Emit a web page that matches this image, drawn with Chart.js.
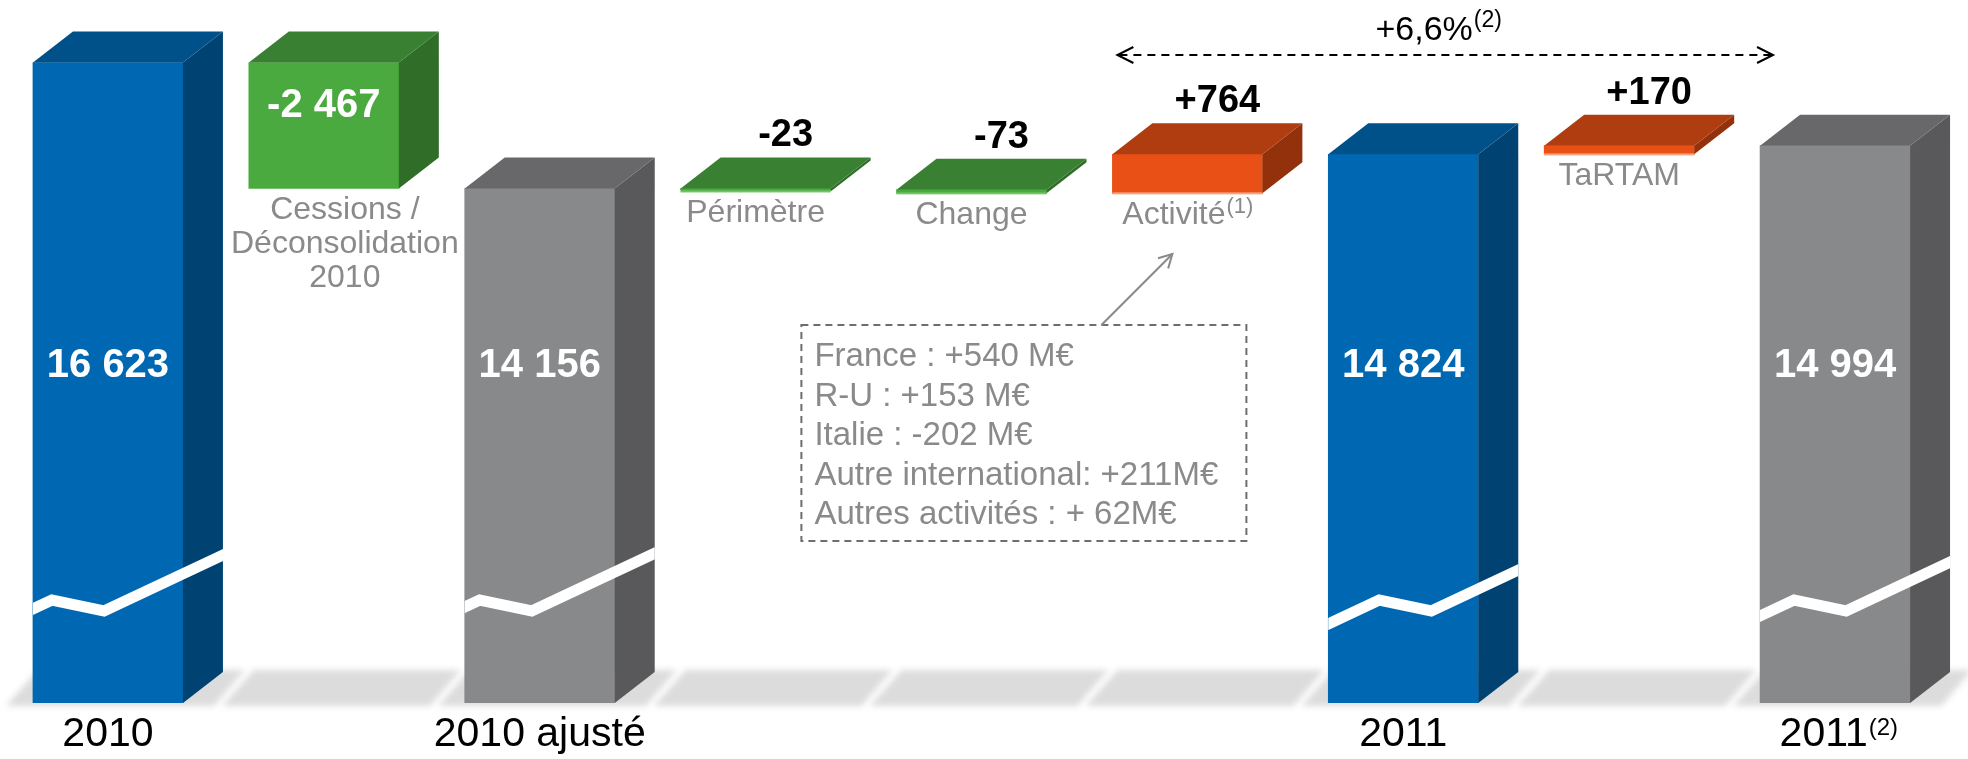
<!DOCTYPE html>
<html>
<head>
<meta charset="utf-8">
<script src="https://cdn.jsdelivr.net/npm/chart.js@4.4.0/dist/chart.umd.min.js"></script>
<style>
html,body{margin:0;padding:0;background:#ffffff;overflow:hidden;}
#wrap{width:1968px;height:759px;position:relative;}
</style>
</head>
<body>
<div id="wrap"><canvas id="c" width="1968" height="759"></canvas></div>
<script>
// ---------- DATA ----------
const categories = ['2010', 'Cessions / Déconsolidation 2010', '2010 ajusté', 'Périmètre', 'Change', 'Activité', '2011', 'TaRTAM', '2011'];
const values = [16623, -2467, 14156, -23, -73, 764, 14824, 170, 14994];
const kinds = ['total', 'delta', 'total', 'delta', 'delta', 'delta', 'total', 'delta', 'total'];
const valueLabels = ['16 623', '-2 467', '14 156', '-23', '-73', '+764', '14 824', '+170', '14 994'];
const categoryLines = [[], ['Cessions /', 'Déconsolidation', '2010'], [], ['Périmètre'], ['Change'], ['Activité'], [], ['TaRTAM'], []];
const footnotes = ['', '', '', '', '', '(1)', '', '', '(2)'];
const activityBreakdown = ['France : +540 M€', 'R-U : +153 M€', 'Italie : -202 M€', 'Autre international: +211M€', 'Autres activités : + 62M€'];
const growthLabel = '+6,6%';
const growthNote = '(2)';

// ---------- STYLE ----------
const colorKeys = ['blue', 'green', 'gray', 'green', 'green', 'orange', 'blue', 'orange', 'gray'];
const palette = {
  blue:   { front: '#0068b2', top: '#00518a', side: '#004372', light: '#0068b2' },
  green:  { front: '#4aaa3f', top: '#3a8032', side: '#2f6d28', light: '#72c466' },
  gray:   { front: '#88898b', top: '#68686a', side: '#59595b', light: '#88898b' },
  orange: { front: '#e85016', top: '#b03d10', side: '#93310c', light: '#f5a37e' }
};
const FONT = '"Liberation Sans", Arial, Helvetica, sans-serif';
const DX = 40, DY = 31;

// floating waterfall segments built from the values
const floating = [];
let running = 0;
values.forEach((v, i) => {
  if (kinds[i] === 'total') { floating.push([0, v]); running = v; }
  else { floating.push([running, running + v]); running += v; }
});

function tickText(i) {
  return categories[i] + (footnotes[i] ? '  ' : '');
}

function drawSup(ctx, main, sup, cx, baseline, mainSize, supSize, weight, color, supRaise) {
  ctx.font = weight + ' ' + mainSize + 'px ' + FONT;
  const wm = ctx.measureText(main).width;
  ctx.font = weight + ' ' + supSize + 'px ' + FONT;
  const ws = sup ? ctx.measureText(sup).width : 0;
  const left = cx - (wm + ws) / 2;
  ctx.fillStyle = color;
  ctx.textAlign = 'left';
  ctx.textBaseline = 'alphabetic';
  ctx.font = weight + ' ' + mainSize + 'px ' + FONT;
  ctx.fillText(main, left, baseline);
  if (sup) {
    ctx.font = weight + ' ' + supSize + 'px ' + FONT;
    ctx.fillText(sup, left + wm + 1, baseline - supRaise);
  }
}

function quad(ctx, pts, color) {
  ctx.fillStyle = color;
  ctx.beginPath();
  ctx.moveTo(pts[0], pts[1]);
  for (let k = 2; k < pts.length; k += 2) ctx.lineTo(pts[k], pts[k + 1]);
  ctx.closePath();
  ctx.fill();
}

const breakPeaks = { 0: 19, 2: 15, 6: 51, 8: 34 };

const box3d = {
  id: 'box3d',
  beforeDatasetsDraw(chart) {
    const { ctx, chartArea } = chart;
    const meta = chart.getDatasetMeta(0);
    const fy = chartArea.bottom;
    ctx.save();
    ctx.filter = 'blur(3px)';
    ctx.fillStyle = '#dcdcdc';
    meta.data.forEach(el => {
      const x0 = el.x - el.width / 2;
      ctx.beginPath();
      ctx.moveTo(x0 - 27, fy + 3);
      ctx.lineTo(x0 + 181, fy + 3);
      ctx.lineTo(x0 + 212, fy - 33);
      ctx.lineTo(x0 + 5, fy - 33);
      ctx.closePath();
      ctx.fill();
    });
    ctx.restore();
  },
  afterDatasetsDraw(chart) {
    const { ctx, chartArea } = chart;
    const meta = chart.getDatasetMeta(0);
    ctx.save();
    meta.data.forEach((el, i) => {
      const c = palette[colorKeys[i]];
      const w = el.width;
      const x0 = el.x - w / 2, x1 = el.x + w / 2;
      const top = Math.min(el.y, el.base);
      let bot = Math.min(Math.max(el.y, el.base), chartArea.bottom);
      if (bot - top < 3) {
        ctx.fillStyle = c.front;
        ctx.fillRect(x0, top, w, 3);
        bot = top + 3;
      }
      // side face
      quad(ctx, [x1, top, x1 + DX, top - DY, x1 + DX, bot - DY, x1, bot], c.side);
      // top face
      quad(ctx, [x0, top, x1, top, x1 + DX, top - DY, x0 + DX, top - DY], c.top);
      // light bottom edge for thin delta slabs
      if (kinds[i] === 'delta' && bot - top < 60) {
        ctx.fillStyle = c.light;
        ctx.fillRect(x0, bot - 1, w, 2);
      }
      // axis break on totals
      if (kinds[i] === 'total') {
        const p = breakPeaks[i] || 20;
        const yP = chartArea.bottom - 103;
        ctx.save();
        ctx.beginPath();
        ctx.rect(x0, 0, w + DX, chartArea.bottom);
        ctx.clip();
        ctx.strokeStyle = '#ffffff';
        ctx.lineWidth = 11;
        ctx.lineJoin = 'miter';
        ctx.beginPath();
        ctx.moveTo(x0 - 6, yP + (p + 6) * 0.47);
        ctx.lineTo(x0 + p, yP);
        ctx.lineTo(x0 + p + 52, yP + 11);
        const xe = x0 + w + DX + 6;
        ctx.lineTo(xe, yP + 11 - (xe - (x0 + p + 52)) * 0.47);
        ctx.stroke();
        ctx.restore();
      }
      // value labels
      if (kinds[i] === 'total') {
        ctx.fillStyle = '#ffffff';
        ctx.font = 'bold 40px ' + FONT;
        ctx.textAlign = 'center';
        ctx.textBaseline = 'middle';
        ctx.fillText(valueLabels[i], el.x, 366);
      } else if (bot - top > 60) {
        ctx.fillStyle = '#ffffff';
        ctx.font = 'bold 40px ' + FONT;
        ctx.textAlign = 'center';
        ctx.textBaseline = 'middle';
        ctx.fillText(valueLabels[i], el.x, top + 43);
      } else {
        ctx.fillStyle = '#000000';
        ctx.font = 'bold 38px ' + FONT;
        ctx.textAlign = 'center';
        ctx.textBaseline = 'alphabetic';
        ctx.fillText(valueLabels[i], el.x + 30, top - DY - 11);
      }
      // category labels near delta boxes
      const lines = categoryLines[i];
      if (lines.length) {
        const cx = el.x + (lines.length > 1 ? 21 : 0);
        lines.forEach((ln, k) => {
          const note = (k === lines.length - 1) ? footnotes[i] : '';
          drawSup(ctx, ln, note, cx, bot + 31 + k * 34, 32, 22, 'normal', '#8a8a8a', 11);
        });
      }
    });

    // growth arrow (Activité -> 2011 restated)
    const act = meta.data[5], last = meta.data[8];
    const ax0 = act.x - act.width / 2;
    const lx = ax0 + 5, rx = last.x - last.width / 2 + 13, ay = 55;
    ctx.strokeStyle = '#000000';
    ctx.lineWidth = 2;
    ctx.setLineDash([8, 6]);
    ctx.beginPath(); ctx.moveTo(lx + 2, ay); ctx.lineTo(rx - 2, ay); ctx.stroke();
    ctx.setLineDash([]);
    ctx.beginPath();
    ctx.moveTo(lx + 16, ay - 8); ctx.lineTo(lx, ay); ctx.lineTo(lx + 16, ay + 8);
    ctx.moveTo(rx - 16, ay - 8); ctx.lineTo(rx, ay); ctx.lineTo(rx - 16, ay + 8);
    ctx.stroke();
    drawSup(ctx, growthLabel, growthNote, (lx + rx) / 2 - 7, 40, 34, 23, 'normal', '#000000', 13);

    // Activité breakdown box
    const bx = ax0 - 311, by = 325, bw = 445, bh = 216;
    ctx.strokeStyle = '#6e6e6e';
    ctx.lineWidth = 2;
    ctx.setLineDash([7, 5]);
    ctx.strokeRect(bx, by, bw, bh);
    ctx.setLineDash([]);
    ctx.fillStyle = '#8a8a8a';
    ctx.font = '33px ' + FONT;
    ctx.textAlign = 'left';
    ctx.textBaseline = 'alphabetic';
    activityBreakdown.forEach((t, k) => ctx.fillText(t, bx + 13, by + 41 + k * 39.5));
    // pointer
    const px0 = ax0 - 11, py0 = by, px1 = ax0 + 60, py1 = 254;
    ctx.strokeStyle = '#8a8a8a';
    ctx.lineWidth = 2;
    ctx.beginPath(); ctx.moveTo(px0, py0); ctx.lineTo(px1, py1); ctx.stroke();
    const ang = Math.atan2(py1 - py0, px1 - px0);
    ctx.beginPath();
    ctx.moveTo(px1 - 15 * Math.cos(ang - 0.5), py1 - 15 * Math.sin(ang - 0.5));
    ctx.lineTo(px1, py1);
    ctx.lineTo(px1 - 15 * Math.cos(ang + 0.5), py1 - 15 * Math.sin(ang + 0.5));
    ctx.stroke();
    ctx.restore();
  },
  afterDraw(chart) {
    const { ctx } = chart;
    const xs = chart.scales.x;
    ctx.save();
    categories.forEach((lab, i) => {
      if (kinds[i] !== 'total' || !footnotes[i]) return;
      ctx.font = '41px ' + FONT;
      const wFull = ctx.measureText(tickText(i)).width;
      const wMain = ctx.measureText(lab).width;
      const left = xs.getPixelForTick(i) - wFull / 2;
      ctx.font = '24px ' + FONT;
      ctx.fillStyle = '#000000';
      ctx.textAlign = 'left';
      ctx.textBaseline = 'alphabetic';
      ctx.fillText(footnotes[i], left + wMain + 1, xs.top + 32);
    });
    ctx.restore();
  }
};

new Chart(document.getElementById('c').getContext('2d'), {
  type: 'bar',
  data: {
    labels: categories,
    datasets: [{
      data: floating,
      backgroundColor: colorKeys.map(k => palette[k].front),
      borderWidth: 0,
      barThickness: 150
    }]
  },
  options: {
    responsive: false,
    animation: false,
    devicePixelRatio: 1,
    layout: { padding: { left: -4, right: 25, top: 0, bottom: 0 } },
    plugins: { legend: { display: false }, tooltip: { enabled: false } },
    scales: {
      x: {
        offset: true,
        grid: { display: false, drawTicks: false },
        border: { display: false },
        afterFit: (s) => { s.height = 56; },
        ticks: {
          autoSkip: false,
          maxRotation: 0,
          padding: 7,
          color: '#000000',
          font: { family: FONT, size: 41 },
          callback: (v, i) => kinds[i] === 'total' ? tickText(i) : ''
        }
      },
      y: { display: false, min: 4070, max: 17850 }
    }
  },
  plugins: [box3d]
});
</script>
</body>
</html>
